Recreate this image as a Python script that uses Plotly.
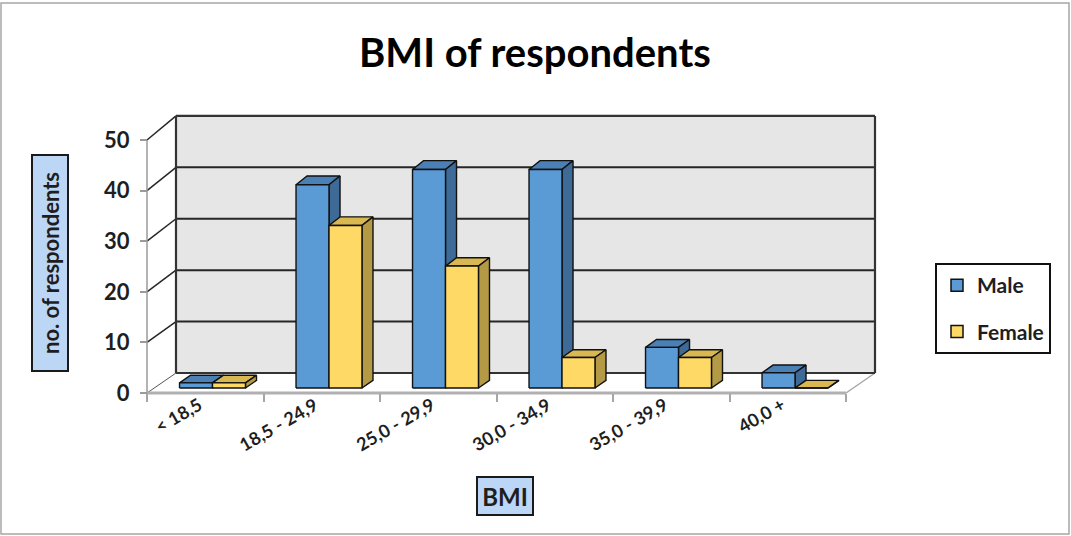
import plotly.graph_objects as go

# ---- data ----
categories = ["< 18,5", "18,5 - 24,9", "25,0 - 29,9", "30,0 - 34,9", "35,0 - 39,9", "40,0 +"]
male = [1, 40, 43, 43, 8, 3]
female = [1, 32, 24, 6, 6, 0]
y_ticks = [0, 10, 20, 30, 40, 50]
series_names = ["Male", "Female"]

# ---- styling ----
W, H = 1071, 536
FONT = "Lato"
TXT = "#1e1e1e"
FRONT = ["#5b9bd5", "#ffd966"]
TOP = ["#4a80b6", "#d9b852"]
SIDE = ["#3d6a96", "#b49a45"]

# front plane frame (pixels) and the oblique depth used for the 3-D look
X0_PX, Y0_PX = 147, 393
PX_PER_CAT = 116.5
PX_PER_UNIT = 5.06
DEPTH_PX = (29, 20)
DEPTH_SCALE = 0.016
BAR_W = 0.283           # width of one bar, in category units
BAR_D = (0.25, 0.63)    # front / back depth of the bars (0 = front, 1 = back wall)
Y_MAX = y_ticks[-1]
N = len(categories)


def to_x(px):
    return (px - X0_PX) / PX_PER_CAT


def to_y(py):
    return (Y0_PX - py) / PX_PER_UNIT


def proj(x, v, d):
    """Project (category position, value, depth) onto the 2-D axes."""
    return (x + d * DEPTH_PX[0] / PX_PER_CAT,
            v * (1 + DEPTH_SCALE * d) + d * DEPTH_PX[1] / PX_PER_UNIT)


def polys(faces):
    xs, ys = [], []
    for face in faces:
        for p in face + [face[0]]:
            x, y = proj(*p)
            xs.append(x)
            ys.append(y)
        xs.append(None)
        ys.append(None)
    return xs, ys


def segs(lines):
    xs, ys = [], []
    for a, b in lines:
        for p in (a, b):
            x, y = proj(*p)
            xs.append(x)
            ys.append(y)
        xs.append(None)
        ys.append(None)
    return xs, ys


fig = go.Figure()


def add_fill(faces, color, line_color=None, width=0):
    xs, ys = polys(faces)
    fig.add_trace(go.Scatter(
        x=xs, y=ys, mode="lines", fill="toself", fillcolor=color,
        line=dict(color=line_color or color, width=width),
        hoverinfo="skip", showlegend=False))


def add_lines(lines, color, width):
    xs, ys = segs(lines)
    fig.add_trace(go.Scatter(
        x=xs, y=ys, mode="lines", line=dict(color=color, width=width),
        hoverinfo="skip", showlegend=False))


# ---- walls and floor ----
add_fill([[(0, 0, 1), (N, 0, 1), (N, Y_MAX, 1), (0, Y_MAX, 1)]], "#e6e6e6")
add_fill([[(0, 0, 0), (0, Y_MAX, 0), (0, Y_MAX, 1), (0, 0, 1)]], "#ffffff")
add_fill([[(0, 0, 0), (N, 0, 0), (N, 0, 1), (0, 0, 1)]], "#ffffff")

grid = [t for t in y_ticks if 0 < t < Y_MAX]
add_lines([((0, t, 1), (N, t, 1)) for t in grid], "#262626", 2)
add_lines([((0, t, 0), (0, t, 1)) for t in grid + [Y_MAX]], "#262626", 1.5)
add_lines([((0, 0, 0), (0, 0, 1))], "#555555", 1)
add_lines([((N, 0, 0), (N, 0, 1))], "#a6a6a6", 1.5)
add_lines([((0, 0, 0), (N, 0, 0))], "#b0b0b0", 3)
add_lines([((0, 0, 0), (0, Y_MAX, 0))], "#9a9a9a", 1.5)
add_lines([((0, Y_MAX, 1), (N, Y_MAX, 1)), ((N, Y_MAX, 1), (N, 0, 1)),
           ((N, 0, 1), (0, 0, 1)), ((0, 0, 1), (0, Y_MAX, 1))], "#333333", 2.2)

# ---- 3-D bars ----
f, b = BAR_D
for s, vals in enumerate([male, female]):
    fronts, tops, sides = [], [], []
    for i, v in enumerate(vals):
        xl = i + 0.5 - BAR_W + s * BAR_W
        xr = xl + BAR_W
        fronts.append([(xl, 0, f), (xr, 0, f), (xr, v, f), (xl, v, f)])
        tops.append([(xl, v, f), (xr, v, f), (xr, v, b), (xl, v, b)])
        sides.append([(xr, 0, f), (xr, 0, b), (xr, v, b), (xr, v, f)])
    add_fill(tops, TOP[s], "#111111", 1.4)
    add_fill(sides, SIDE[s], "#111111", 1.4)
    add_fill(fronts, FRONT[s], "#111111", 1.4)

# legend entries
for s, name in enumerate(series_names):
    fig.add_trace(go.Bar(
        x=[None], y=[None], name=name, legendgroup=name,
        marker=dict(color=FRONT[s], line=dict(color="#111111", width=1.5))))

# ---- category labels ----
for i, cat in enumerate(categories):
    fig.add_annotation(
        x=i + 0.5 + 3 / PX_PER_CAT, y=to_y(390), xref="x", yref="y",
        text=cat, showarrow=False, textangle=-30,
        xanchor="right", yanchor="top",
        font=dict(family=FONT, size=18, color=TXT, weight="bold"))

# ---- titles ----
fig.add_annotation(
    x=534.5 / W, y=1 - 52 / H, xref="paper", yref="paper",
    text="BMI of respondents", showarrow=False,
    xanchor="center", yanchor="middle",
    font=dict(family=FONT, size=40, color="#000000", weight="bold"))

fig.add_annotation(
    x=50 / W, y=1 - 263 / H, xref="paper", yref="paper",
    text="no. of respondents", showarrow=False, textangle=-90,
    width=212, height=32, borderpad=1,
    bgcolor="#bcd6f6", bordercolor="#1a1a1a", borderwidth=2,
    xanchor="center", yanchor="middle",
    font=dict(family=FONT, size=22, color=TXT, weight="bold"))

fig.add_annotation(
    x=504.5 / W, y=1 - 496 / H, xref="paper", yref="paper",
    text="BMI", showarrow=False,
    width=52, height=34, borderpad=1,
    bgcolor="#bcd6f6", bordercolor="#1a1a1a", borderwidth=2,
    xanchor="center", yanchor="middle",
    font=dict(family=FONT, size=24, color=TXT, weight="bold"))

# outer frame of the chart
fig.add_shape(type="rect", xref="paper", yref="paper",
              x0=1 / W, x1=1 - 2 / W, y0=2 / H, y1=1 - 3 / H,
              line=dict(color="#a6a6a6", width=1.5), layer="above")

fig.update_layout(
    width=W, height=H,
    margin=dict(l=0, r=0, t=0, b=0),
    paper_bgcolor="#ffffff", plot_bgcolor="#ffffff",
    showlegend=True,
    legend=dict(
        x=935 / W, y=1 - 263 / H, xanchor="left", yanchor="top",
        bgcolor="#ffffff", bordercolor="#111111", borderwidth=2,
        tracegroupgap=16, traceorder="grouped",
        font=dict(family=FONT, size=21, color=TXT, weight="bold")),
    xaxis=dict(
        range=[to_x(0), to_x(W)], anchor="free", position=(H - Y0_PX) / H,
        tickvals=list(range(N + 1)), ticks="outside", ticklen=8,
        tickwidth=1.5, tickcolor="#a6a6a6", showticklabels=False,
        showgrid=False, zeroline=False, showline=False, fixedrange=True),
    yaxis=dict(
        range=[to_y(H), to_y(0)], anchor="free", position=X0_PX / W,
        tickvals=y_ticks, ticks="outside", ticklen=7, tickwidth=1.5,
        tickcolor="#9a9a9a", ticklabelstandoff=6,
        tickfont=dict(family=FONT, size=22, color=TXT, weight="bold"),
        showgrid=False, zeroline=False, showline=False, fixedrange=True),
)

fig.write_html("out.html")
